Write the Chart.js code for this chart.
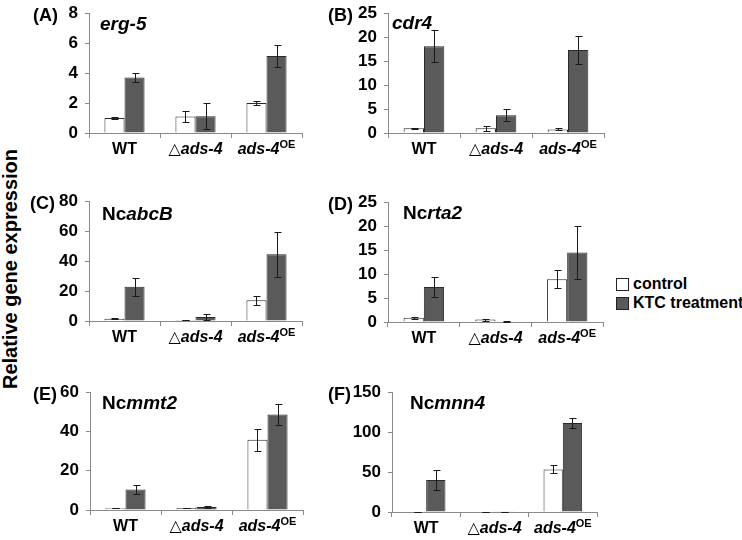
<!DOCTYPE html>
<html>
<head>
<meta charset="utf-8">
<script src="https://cdn.jsdelivr.net/npm/chart.js@4.4.0/dist/chart.umd.min.js"></script>
<style>
    body { margin: 0; background: #fff; font-family: "Liberation Sans", Arial, sans-serif; }
    #page { position: relative; width: 742px; height: 540px; overflow: hidden; }
    canvas { position: absolute; }
    .txt { position: absolute; font-weight: bold; color: #000; white-space: nowrap; transform: translateY(-50%); line-height: 1; }
    .panel { font-size: 18px; }
    .gene { font-size: 19px; }
    .gene i { font-style: italic; }
    .legend { font-size: 16px; }
    .ytitle { font-size: 20px; transform: translate(-50%, -50%) rotate(-90deg); }
    .box { position: absolute; width: 11px; height: 11px; border: 1px solid #222; }
</style>
</head>
<body>
<div id="page"></div>
<script>
// Categories and values
const categories = ['WT', 'ads-4', 'ads-4OE'];

const erg5Control = [1.0, 1.1, 2.0];
const erg5ControlErr = [0.05, 0.38, 0.15];
const erg5Ktc = [3.7, 1.12, 5.15];
const erg5KtcErr = [0.28, 0.85, 0.72];

const cdr4Control = [1.0, 1.0, 0.75];
const cdr4ControlErr = [0.1, 0.5, 0.2];
const cdr4Ktc = [18.1, 3.7, 17.3];
const cdr4KtcErr = [3.3, 1.3, 3.0];

const abcBControl = [1.5, 0.7, 13.8];
const abcBControlErr = [0.3, 0.3, 3.0];
const abcBKtc = [22.8, 2.6, 44.5];
const abcBKtcErr = [6.0, 2.2, 15.0];

const rta2Control = [0.9, 0.5, 8.9];
const rta2ControlErr = [0.2, 0.2, 1.9];
const rta2Ktc = [7.3, 0.1, 14.5];
const rta2KtcErr = [2.0, 0.05, 5.6];

const mmt2Control = [0.9, 1.0, 35.8];
const mmt2ControlErr = [0.1, 0.1, 5.5];
const mmt2Ktc = [10.5, 1.5, 48.6];
const mmt2KtcErr = [2.2, 0.3, 5.5];

const mnn4Control = [0.5, 0.3, 53.3];
const mnn4ControlErr = [0.1, 0.05, 5.0];
const mnn4Ktc = [40, 0.3, 111.5];
const mnn4KtcErr = [13, 0.05, 6.5];

// Panel layout: chart area edges in page pixels
const panels = [
    { label: '(A)', lx: 33, gene: '<i>erg-5</i>', gx: 100, gy: 23, L: 89, R: 302, T: 8, B: 133, max: 8, step: 2, c: erg5Control, ce: erg5ControlErr, k: erg5Ktc, ke: erg5KtcErr },
    { label: '(B)', lx: 328, gene: '<i>cdr4</i>', gx: 392, gy: 22, L: 388, R: 604, T: 8, B: 133, max: 25, step: 5, c: cdr4Control, ce: cdr4ControlErr, k: cdr4Ktc, ke: cdr4KtcErr },
    { label: '(C)', lx: 30, gene: 'Nc<i>abcB</i>', gx: 102, gy: 213, L: 89, R: 302, T: 196, B: 321, max: 80, step: 20, c: abcBControl, ce: abcBControlErr, k: abcBKtc, ke: abcBKtcErr },
    { label: '(D)', lx: 328, gene: 'Nc<i>rta2</i>', gx: 403, gy: 212, L: 388, R: 603, T: 197, B: 322, max: 25, step: 5, c: rta2Control, ce: rta2ControlErr, k: rta2Ktc, ke: rta2KtcErr },
    { label: '(E)', lx: 33, gene: 'Nc<i>mmt2</i>', gx: 102, gy: 402, L: 90, R: 303, T: 387, B: 510, max: 60, step: 20, c: mmt2Control, ce: mmt2ControlErr, k: mmt2Ktc, ke: mmt2KtcErr },
    { label: '(F)', lx: 328, gene: 'Nc<i>mnn4</i>', gx: 410, gy: 402, L: 392, R: 597, T: 387, B: 512, max: 150, step: 50, c: mnn4Control, ce: mnn4ControlErr, k: mnn4Ktc, ke: mnn4KtcErr }
];

const AXIS_W = 50, PAD_TOP = 12, PAD_RIGHT = 6, XAXIS_H = 30;
const page = document.getElementById('page');

function addText(cls, html, x, y) {
    const d = document.createElement('div');
    d.className = 'txt ' + cls;
    d.innerHTML = html;
    d.style.left = x + 'px';
    d.style.top = y + 'px';
    page.appendChild(d);
    return d;
}

// Error bars drawn from the y scale
const errorBars = {
    id: 'errorBars',
    afterDatasetsDraw(chart) {
        const ctx = chart.ctx;
        const y = chart.scales.y;
        ctx.save();
        ctx.strokeStyle = '#1a1a1a';
        ctx.lineWidth = 1;
        chart.data.datasets.forEach((ds, di) => {
            chart.getDatasetMeta(di).data.forEach((bar, i) => {
                const v = ds.data[i], e = ds.errors[i];
                const top = Math.round(y.getPixelForValue(v + e)) + 0.5;
                const bot = Math.round(y.getPixelForValue(Math.max(v - e, 0))) + 0.5;
                const x = Math.round(bar.x) + 0.5;
                ctx.beginPath();
                ctx.moveTo(x, top); ctx.lineTo(x, bot);
                ctx.moveTo(x - 3, top); ctx.lineTo(x + 4, top);
                ctx.moveTo(x - 3, bot); ctx.lineTo(x + 4, bot);
                ctx.stroke();
            });
        });
        ctx.restore();
    }
};

// Category labels with mixed fonts
const FONT = '"Liberation Sans", Arial, sans-serif';
const labelParts = [
    [{ t: 'WT', f: 'bold 16px ' + FONT }],
    [{ t: '\u25B3', f: '16px "DejaVu Sans", sans-serif' }, { t: 'ads-4', f: 'italic bold 16px ' + FONT }],
    [{ t: 'ads-4', f: 'italic bold 16px ' + FONT }, { t: 'OE', f: 'bold 11px ' + FONT, dy: -5 }]
];
const catLabels = {
    id: 'catLabels',
    afterDraw(chart) {
        const ctx = chart.ctx;
        const xs = chart.scales.x;
        const yc = chart.chartArea.bottom + 17;
        ctx.save();
        ctx.fillStyle = '#000';
        ctx.textBaseline = 'middle';
        ctx.textAlign = 'left';
        labelParts.forEach((parts, i) => {
            let w = 0;
            parts.forEach(p => { ctx.font = p.f; w += ctx.measureText(p.t).width; });
            let x = xs.getPixelForValue(i) - w / 2;
            parts.forEach(p => {
                ctx.font = p.f;
                ctx.fillText(p.t, x, yc + (p.dy || 0));
                x += ctx.measureText(p.t).width;
            });
        });
        ctx.restore();
    }
};

panels.forEach(p => {
    const cv = document.createElement('canvas');
    const w = (p.R - p.L) + AXIS_W + PAD_RIGHT;
    const h = (p.B - p.T) + PAD_TOP + XAXIS_H;
    cv.width = w; cv.height = h;
    cv.style.left = (p.L - AXIS_W) + 'px';
    cv.style.top = (p.T - PAD_TOP) + 'px';
    page.appendChild(cv);

    new Chart(cv.getContext('2d'), {
        type: 'bar',
        data: {
            labels: categories,
            datasets: [
                { label: 'control', data: p.c, errors: p.ce, backgroundColor: '#ffffff', borderColor: '#2a2a2a', borderWidth: 1 },
                { label: 'KTC treatment', data: p.k, errors: p.ke, backgroundColor: '#5a5a5a', borderColor: '#2a2a2a', borderWidth: 1 }
            ]
        },
        options: {
            responsive: false,
            animation: false,
            devicePixelRatio: 1,
            layout: { padding: { top: PAD_TOP, right: PAD_RIGHT, left: 0, bottom: 0 }, autoPadding: false },
            plugins: { legend: { display: false }, tooltip: { enabled: false } },
            datasets: { bar: { categoryPercentage: 0.565, barPercentage: 1 } },
            scales: {
                x: {
                    ticks: { display: false },
                    grid: { drawOnChartArea: false, drawTicks: true, tickLength: 5, color: '#8a8a8a', offset: true },
                    border: { color: '#8a8a8a', width: 1 },
                    afterFit: s => { s.height = XAXIS_H; }
                },
                y: {
                    min: 0, max: p.max,
                    ticks: { stepSize: p.step, padding: 7, color: '#000', font: { family: FONT, size: 17, weight: 'bold' } },
                    grid: { drawOnChartArea: false, drawTicks: true, tickLength: 4, color: '#8a8a8a' },
                    border: { color: '#8a8a8a', width: 1 },
                    afterFit: s => { s.width = AXIS_W; }
                }
            }
        },
        plugins: [errorBars, catLabels]
    });

    addText('panel', p.label, p.lx, p.T + 7);
    addText('gene', p.gene, p.gx, p.gy);
});

addText('ytitle', 'Relative gene expression', 10, 269);

// Legend
const legendItems = [
    { name: 'control', fill: '#ffffff', y: 284 },
    { name: 'KTC treatment', fill: '#5a5a5a', y: 303 }
];
legendItems.forEach(it => {
    const b = document.createElement('div');
    b.className = 'box';
    b.style.background = it.fill;
    b.style.left = '616px';
    b.style.top = (it.y - 6) + 'px';
    page.appendChild(b);
    addText('legend', it.name, 633, it.y);
});
</script>
</body>
</html>
